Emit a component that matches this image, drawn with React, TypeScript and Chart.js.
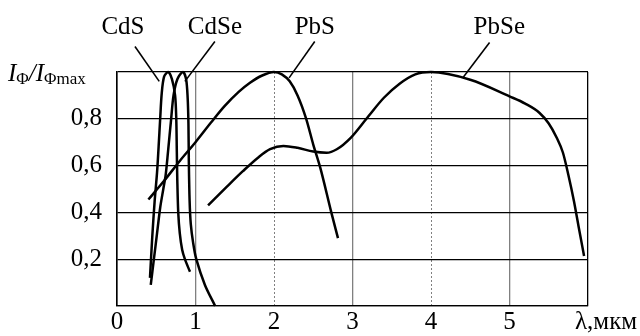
import React, { useEffect, useRef } from "react";
import { Chart, registerables } from "chart.js";

Chart.register(...registerables);

// ---- data (λ in μm, relative photocurrent) ----
const xTickValues = [0, 1, 2, 3, 4, 5];
const yTickValues = [0.2, 0.4, 0.6, 0.8];
const seriesNames = ["CdS", "CdSe", "PbS", "PbSe"];

const cdsX = [0.42, 0.45, 0.48, 0.51, 0.53, 0.55, 0.57, 0.6, 0.65, 0.7, 0.74, 0.755, 0.762, 0.768, 0.78, 0.8, 0.83, 0.865, 0.93];
const cdsY = [0.12, 0.3, 0.45, 0.57, 0.68, 0.8, 0.91, 0.98, 1.0, 0.97, 0.9, 0.8, 0.66, 0.54, 0.4, 0.31, 0.24, 0.2, 0.146];

const cdseX = [0.43, 0.47, 0.51, 0.55, 0.59, 0.62, 0.65, 0.69, 0.72, 0.77, 0.84, 0.88, 0.9, 0.91, 0.915, 0.925, 0.94, 0.97, 1.01, 1.12, 1.25];
const cdseY = [0.09, 0.2, 0.31, 0.42, 0.5, 0.56, 0.66, 0.8, 0.9, 0.97, 1.0, 0.97, 0.89, 0.78, 0.62, 0.45, 0.35, 0.27, 0.2, 0.09, 0.0];

const pbsX = [0.4, 0.6, 0.8, 1.0, 1.2, 1.37, 1.55, 1.69, 1.85, 2.0, 2.1, 2.2, 2.3, 2.41, 2.5, 2.59, 2.73, 2.815];
const pbsY = [0.455, 0.535, 0.62, 0.7, 0.785, 0.854, 0.915, 0.953, 0.985, 1.0, 0.99, 0.96, 0.9, 0.8, 0.69, 0.59, 0.4, 0.29];

const pbseX = [1.16, 1.4, 1.6, 1.8, 1.95, 2.12, 2.3, 2.5, 2.67, 2.8, 2.98, 3.2, 3.4, 3.6, 3.8, 4.0, 4.5, 5.0, 5.2, 5.38, 5.5, 5.6, 5.68, 5.75, 5.82, 5.88, 5.95];
const pbseY = [0.43, 0.51, 0.575, 0.635, 0.67, 0.684, 0.676, 0.66, 0.655, 0.67, 0.72, 0.81, 0.89, 0.95, 0.99, 1.0, 0.967, 0.896, 0.865, 0.826, 0.78, 0.72, 0.656, 0.56, 0.45, 0.34, 0.214];

// curve name labels and leader lines (in data units)
const labelX = [0.076, 1.247, 2.52, 4.87];
const labelY = [1.163, 1.163, 1.163, 1.163];
const leaderFromX = [0.229, 1.247, 2.519, 4.746];
const leaderFromY = [1.109, 1.13, 1.13, 1.126];
const leaderToX = [0.538, 0.865, 2.192, 4.406];
const leaderToY = [0.96, 0.96, 0.975, 0.975];

const SERIF = '"Liberation Serif", "Times New Roman", serif';

const toPoints = (xs: number[], ys: number[]) => xs.map((x, i) => ({ x, y: ys[i] }));

const annotations = {
  id: "annotations",
  beforeDraw(chart: any) {
    const { ctx } = chart;
    ctx.save();
    ctx.fillStyle = "#fff";
    ctx.fillRect(0, 0, chart.width, chart.height);
    ctx.restore();
  },
  afterDatasetsDraw(chart: any) {
    const { ctx, chartArea } = chart;
    const xs = chart.scales.x;
    const ys = chart.scales.y;
    ctx.save();
    ctx.strokeStyle = "#000";
    ctx.lineWidth = 1.6;
    for (let i = 0; i < seriesNames.length; i++) {
      ctx.beginPath();
      ctx.moveTo(xs.getPixelForValue(leaderFromX[i]), ys.getPixelForValue(leaderFromY[i]));
      ctx.lineTo(xs.getPixelForValue(leaderToX[i]), ys.getPixelForValue(leaderToY[i]));
      ctx.stroke();
    }
    ctx.fillStyle = "#000";
    ctx.font = `25px ${SERIF}`;
    ctx.textAlign = "center";
    ctx.textBaseline = "alphabetic";
    for (let i = 0; i < seriesNames.length; i++) {
      ctx.fillText(seriesNames[i], xs.getPixelForValue(labelX[i]), ys.getPixelForValue(labelY[i]));
    }
    // x-axis title
    ctx.textAlign = "left";
    ctx.font = `25px ${SERIF}`;
    ctx.fillText("λ,мкм", chartArea.right - 13, chartArea.bottom + 23);
    // y-axis title  I_Φ / I_Φmax
    const base = chartArea.top + 9;
    const parts: [string, string, number][] = [
      ["I", `italic 25px ${SERIF}`, 0],
      ["Φ", `17px ${SERIF}`, 3],
      ["/", `italic 25px ${SERIF}`, 0],
      ["I", `italic 25px ${SERIF}`, 0],
      ["Φmax", `17px ${SERIF}`, 3],
    ];
    let px = 8;
    for (const [t, f, dy] of parts) {
      ctx.font = f;
      ctx.fillText(t, px, base + dy);
      px += ctx.measureText(t).width;
    }
    ctx.restore();
  },
};

export default function App() {
  const ref = useRef<HTMLCanvasElement | null>(null);
  useEffect(() => {
    if (!ref.current) return;
    const mk = (data: { x: number; y: number }[], label: string, monotone: boolean) => ({
      label,
      data,
      borderColor: "#000",
      backgroundColor: "#000",
      borderWidth: 2.5,
      pointRadius: 0,
      tension: monotone ? 0 : 0.3,
      cubicInterpolationMode: monotone ? "monotone" : "default",
      fill: false,
      clip: 6,
    });
    const chart = new Chart(ref.current, {
      type: "line",
      data: {
        datasets: [
          mk(toPoints(cdsX, cdsY), seriesNames[0], false),
          mk(toPoints(cdseX, cdseY), seriesNames[1], false),
          mk(toPoints(pbsX, pbsY), seriesNames[2], true),
          mk(toPoints(pbseX, pbseY), seriesNames[3], true),
        ],
      },
      options: {
        responsive: false,
        animation: false,
        events: [],
        layout: { padding: { top: 72, right: 52, left: 0, bottom: 0 } },
        plugins: { legend: { display: false }, tooltip: { enabled: false }, title: { display: false } },
        scales: {
          x: {
            type: "linear",
            min: 0,
            max: 6,
            afterFit: (s: any) => {
              s.height = 28;
            },
            ticks: {
              stepSize: 1,
              autoSkip: false,
              maxRotation: 0,
              padding: 1,
              color: "#000",
              font: { family: SERIF, size: 25 },
              callback: (v: any) => (xTickValues.includes(Number(v)) ? String(v) : ""),
            },
            grid: {
              drawTicks: false,
              color: (c: any) => {
                const v = c.tick ? c.tick.value : -1;
                return v === 0 || v === 6 ? "#000" : "#808080";
              },
              lineWidth: (c: any) => {
                const v = c.tick ? c.tick.value : -1;
                return v === 2 || v === 4 ? 1 : 1.3;
              },
            },
            border: {
              display: true,
              color: "#000",
              width: 1.3,
              dash: (c: any) => {
                const v = c.tick ? c.tick.value : -1;
                return v === 2 || v === 4 ? [2, 2] : [];
              },
            },
          },
          y: {
            type: "linear",
            min: 0,
            max: 1,
            afterFit: (s: any) => {
              s.width = 117;
            },
            ticks: {
              stepSize: 0.2,
              padding: 15,
              color: "#000",
              font: { family: SERIF, size: 25 },
              callback: (v: any) =>
                yTickValues.some((t) => Math.abs(t - Number(v)) < 1e-6) ? Number(v).toFixed(1).replace(".", ",") : "",
            },
            grid: { drawTicks: false, color: "#000", lineWidth: 1.2 },
            border: { display: true, color: "#000", width: 1.5 },
          },
        },
      },
      plugins: [annotations],
    } as any);
    return () => chart.destroy();
  }, []);
  return (
    <div style={{ position: "absolute", left: 0, top: 0, width: 640, height: 336, background: "#fff" }}>
      <canvas ref={ref} width={640} height={336} style={{ display: "block" }} />
    </div>
  );
}
